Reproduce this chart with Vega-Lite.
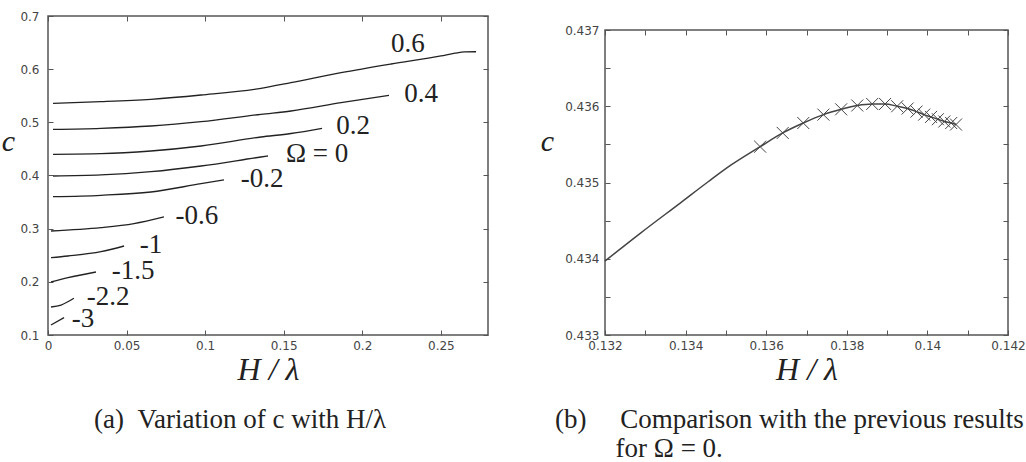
{
  "$schema": "https://vega.github.io/schema/vega-lite/v6.json",
  "padding": {"left": 0, "top": 9, "right": 0, "bottom": 0},
  "background": "white",
  "spacing": 49,
  "datasets": {
    "curves": [
      {"omega": "0.6", "h": 0.0032, "c": 0.5358},
      {"omega": "0.6", "h": 0.0337, "c": 0.5388},
      {"omega": "0.6", "h": 0.0655, "c": 0.5433},
      {"omega": "0.6", "h": 0.0974, "c": 0.5514},
      {"omega": "0.6", "h": 0.1355, "c": 0.5640},
      {"omega": "0.6", "h": 0.1546, "c": 0.5746},
      {"omega": "0.6", "h": 0.1865, "c": 0.5934},
      {"omega": "0.6", "h": 0.2183, "c": 0.6097},
      {"omega": "0.6", "h": 0.2501, "c": 0.6248},
      {"omega": "0.6", "h": 0.2590, "c": 0.6300},
      {"omega": "0.6", "h": 0.2650, "c": 0.6325},
      {"omega": "0.6", "h": 0.2724, "c": 0.6328},
      {"omega": "0.4", "h": 0.0032, "c": 0.4869},
      {"omega": "0.4", "h": 0.0337, "c": 0.4888},
      {"omega": "0.4", "h": 0.0655, "c": 0.4931},
      {"omega": "0.4", "h": 0.0974, "c": 0.5012},
      {"omega": "0.4", "h": 0.1355, "c": 0.5151},
      {"omega": "0.4", "h": 0.1546, "c": 0.5213},
      {"omega": "0.4", "h": 0.1865, "c": 0.5369},
      {"omega": "0.4", "h": 0.2170, "c": 0.5509},
      {"omega": "0.2", "h": 0.0032, "c": 0.4399},
      {"omega": "0.2", "h": 0.0337, "c": 0.4410},
      {"omega": "0.2", "h": 0.0655, "c": 0.4461},
      {"omega": "0.2", "h": 0.0974, "c": 0.4555},
      {"omega": "0.2", "h": 0.1355, "c": 0.4724},
      {"omega": "0.2", "h": 0.1546, "c": 0.4790},
      {"omega": "0.2", "h": 0.1744, "c": 0.4888},
      {"omega": "0", "h": 0.0032, "c": 0.3991},
      {"omega": "0", "h": 0.0337, "c": 0.4010},
      {"omega": "0", "h": 0.0655, "c": 0.4072},
      {"omega": "0", "h": 0.0974, "c": 0.4179},
      {"omega": "0", "h": 0.1355, "c": 0.4348},
      {"omega": "0", "h": 0.1400, "c": 0.4367},
      {"omega": "-0.2", "h": 0.0032, "c": 0.3601},
      {"omega": "-0.2", "h": 0.0337, "c": 0.3628},
      {"omega": "-0.2", "h": 0.0655, "c": 0.3690},
      {"omega": "-0.2", "h": 0.0974, "c": 0.3846},
      {"omega": "-0.2", "h": 0.1120, "c": 0.3916},
      {"omega": "-0.6", "h": 0.0019, "c": 0.2956},
      {"omega": "-0.6", "h": 0.0337, "c": 0.3018},
      {"omega": "-0.6", "h": 0.0547, "c": 0.3094},
      {"omega": "-0.6", "h": 0.0738, "c": 0.3220},
      {"omega": "-1", "h": 0.0019, "c": 0.2455},
      {"omega": "-1", "h": 0.0127, "c": 0.2486},
      {"omega": "-1", "h": 0.0337, "c": 0.2567},
      {"omega": "-1", "h": 0.0484, "c": 0.2674},
      {"omega": "-1.5", "h": 0.0019, "c": 0.1997},
      {"omega": "-1.5", "h": 0.0127, "c": 0.2078},
      {"omega": "-1.5", "h": 0.0305, "c": 0.2185},
      {"omega": "-2.2", "h": 0.0019, "c": 0.1527},
      {"omega": "-2.2", "h": 0.0083, "c": 0.1564},
      {"omega": "-2.2", "h": 0.0165, "c": 0.1691},
      {"omega": "-3", "h": 0.0019, "c": 0.1188},
      {"omega": "-3", "h": 0.0102, "c": 0.1326}
    ],
    "labels": [
      {"label": "0.6", "h": 0.229, "c": 0.647},
      {"label": "0.4", "h": 0.2374, "c": 0.553},
      {"label": "0.2", "h": 0.1941, "c": 0.4931},
      {"label": "Ω = 0", "h": 0.1712, "c": 0.4405},
      {"label": "-0.2", "h": 0.1362, "c": 0.3934},
      {"label": "-0.6", "h": 0.0948, "c": 0.3239},
      {"label": "-1", "h": 0.0655, "c": 0.2693},
      {"label": "-1.5", "h": 0.0541, "c": 0.2204},
      {"label": "-2.2", "h": 0.0382, "c": 0.1715},
      {"label": "-3", "h": 0.0223, "c": 0.1301}
    ],
    "line": [
      {"h": 0.13200, "c": 0.43397},
      {"h": 0.13289, "c": 0.43434},
      {"h": 0.13389, "c": 0.43474},
      {"h": 0.13456, "c": 0.43501},
      {"h": 0.13513, "c": 0.43523},
      {"h": 0.13585, "c": 0.43547},
      {"h": 0.13641, "c": 0.43565},
      {"h": 0.13692, "c": 0.43578},
      {"h": 0.13742, "c": 0.43589},
      {"h": 0.13786, "c": 0.43596},
      {"h": 0.13826, "c": 0.43601},
      {"h": 0.13863, "c": 0.43603},
      {"h": 0.13895, "c": 0.43603},
      {"h": 0.13925, "c": 0.43600},
      {"h": 0.13951, "c": 0.43597},
      {"h": 0.13973, "c": 0.43593},
      {"h": 0.13992, "c": 0.43589},
      {"h": 0.14009, "c": 0.43586},
      {"h": 0.14026, "c": 0.43583},
      {"h": 0.14042, "c": 0.43580},
      {"h": 0.14059, "c": 0.43578},
      {"h": 0.14071, "c": 0.43576}
    ],
    "markers": [
      {"h": 0.13585, "c": 0.43547},
      {"h": 0.13641, "c": 0.43565},
      {"h": 0.13692, "c": 0.43578},
      {"h": 0.13742, "c": 0.43589},
      {"h": 0.13786, "c": 0.43596},
      {"h": 0.13826, "c": 0.43601},
      {"h": 0.13863, "c": 0.43603},
      {"h": 0.13895, "c": 0.43603},
      {"h": 0.13925, "c": 0.43600},
      {"h": 0.13951, "c": 0.43597},
      {"h": 0.13973, "c": 0.43593},
      {"h": 0.13992, "c": 0.43589},
      {"h": 0.14009, "c": 0.43586},
      {"h": 0.14026, "c": 0.43583},
      {"h": 0.14042, "c": 0.43580},
      {"h": 0.14059, "c": 0.43578},
      {"h": 0.14071, "c": 0.43576}
    ]
  },
  "hconcat": [
    {
      "width": 440,
      "height": 319,
      "view": {"stroke": "#555", "strokeWidth": 1.5},
      "title": {"text": "(a)\u00a0\u00a0Variation of c with H/λ", "orient": "bottom", "anchor": "middle", "frame": "group", "dx": -28, "offset": 22, "font": "Liberation Serif", "fontSize": 27, "fontWeight": "normal", "color": "#222"},
      "layer": [
        {
          "data": {"name": "curves"},
          "mark": {"type": "line", "color": "#222", "strokeWidth": 1.3, "interpolate": "monotone"},
          "encoding": {
            "x": {"field": "h", "type": "quantitative", "scale": {"domain": [0, 0.28], "nice": false, "zero": false},
              "axis": {"orient": "bottom", "values": [0, 0.05, 0.1, 0.15, 0.2, 0.25], "format": ".2~f", "title": "H / λ", "titleFontSize": 32, "titlePadding": 3}},
            "y": {"field": "c", "type": "quantitative", "scale": {"domain": [0.1, 0.7], "nice": false, "zero": false},
              "axis": {"orient": "left", "values": [0.1, 0.2, 0.3, 0.4, 0.5, 0.6, 0.7], "format": ".1~f", "labelPadding": 14, "title": "c", "titleFontSize": 30, "titleAngle": 0, "titleX": -40, "titleY": 125, "titleAlign": "center", "titleBaseline": "middle"}},
            "detail": {"field": "omega", "type": "nominal"}
          }
        },
        {
          "data": {"name": "labels"},
          "mark": {"type": "text", "font": "Liberation Serif", "fontSize": 27, "color": "#222", "align": "center", "baseline": "middle"},
          "encoding": {
            "x": {"field": "h", "type": "quantitative", "axis": {"orient": "top", "values": [0, 0.05, 0.1, 0.15, 0.2, 0.25], "labels": false, "title": null}},
            "y": {"field": "c", "type": "quantitative", "axis": {"orient": "right", "values": [0.1, 0.2, 0.3, 0.4, 0.5, 0.6, 0.7], "labels": false, "title": null}},
            "text": {"field": "label", "type": "nominal"}
          }
        }
      ],
      "resolve": {"axis": {"x": "independent", "y": "independent"}}
    },
    {
      "bounds": "flush",
      "spacing": 0,
      "title": {"text": "for Ω = 0.", "orient": "bottom", "anchor": "start", "dx": 76, "offset": 2, "font": "Liberation Serif", "fontSize": 27, "fontWeight": "normal", "color": "#222"},
      "vconcat": [
        {
          "width": 403,
          "height": 14,
          "view": {"stroke": null},
          "data": {"values": []},
          "mark": "point"
        },
        {
          "width": 403,
          "height": 305,
          "view": {"stroke": "#555", "strokeWidth": 1.5},
          "title": {"text": "(b)\u00a0\u00a0\u00a0\u00a0\u00a0Comparison with the previous results", "orient": "bottom", "anchor": "start", "frame": "group", "dx": -50, "offset": 22, "font": "Liberation Serif", "fontSize": 27, "fontWeight": "normal", "color": "#222"},
          "layer": [
            {
              "data": {"name": "line"},
              "mark": {"type": "line", "color": "#444", "strokeWidth": 1.5, "interpolate": "monotone"},
              "encoding": {
                "x": {"field": "h", "type": "quantitative", "scale": {"domain": [0.132, 0.142], "nice": false, "zero": false},
                  "axis": {"orient": "bottom", "values": [0.132, 0.133, 0.134, 0.135, 0.136, 0.137, 0.138, 0.139, 0.14, 0.141, 0.142], "format": ".3~f", "labelExpr": "round(datum.value * 1000) % 2 == 0 ? datum.label : ''", "title": "H / λ", "titleFontSize": 32, "titlePadding": 3}},
                "y": {"field": "c", "type": "quantitative", "scale": {"domain": [0.433, 0.437], "nice": false, "zero": false},
                  "axis": {"orient": "left", "values": [0.433, 0.4335, 0.434, 0.4345, 0.435, 0.4355, 0.436, 0.4365, 0.437], "format": ".3~f", "labelExpr": "round(datum.value * 2000) % 2 == 0 ? datum.label : ''", "labelPadding": 11, "title": "c", "titleFontSize": 30, "titleAngle": 0, "titleX": -58, "titleY": 111, "titleAlign": "center", "titleBaseline": "middle"}}
              }
            },
            {
              "data": {"name": "markers"},
              "mark": {"type": "point", "shape": "M-1,-1L1,1M-1,1L1,-1", "size": 144, "filled": false, "stroke": "#444", "strokeWidth": 1, "opacity": 1},
              "encoding": {
                "x": {"field": "h", "type": "quantitative", "axis": {"orient": "top", "values": [0.132, 0.133, 0.134, 0.135, 0.136, 0.137, 0.138, 0.139, 0.14, 0.141, 0.142], "labels": false, "title": null}},
                "y": {"field": "c", "type": "quantitative", "axis": {"orient": "right", "values": [0.433, 0.4335, 0.434, 0.4345, 0.435, 0.4355, 0.436, 0.4365, 0.437], "labels": false, "title": null}}
              }
            }
          ],
          "resolve": {"axis": {"x": "independent", "y": "independent"}}
        }
      ]
    }
  ],
  "config": {
    "axis": {
      "domain": false,
      "grid": false,
      "ticks": true,
      "tickSize": -5,
      "tickColor": "#555",
      "tickWidth": 1,
      "labelPadding": 10,
      "labelFont": "DejaVu Sans",
      "labelFontSize": 12,
      "labelColor": "#444",
      "labelFlush": false,
      "labelOverlap": false,
      "titleFont": "Liberation Serif",
      "titleFontStyle": "italic",
      "titleFontWeight": "normal",
      "titleColor": "#222"
    }
  }
}
